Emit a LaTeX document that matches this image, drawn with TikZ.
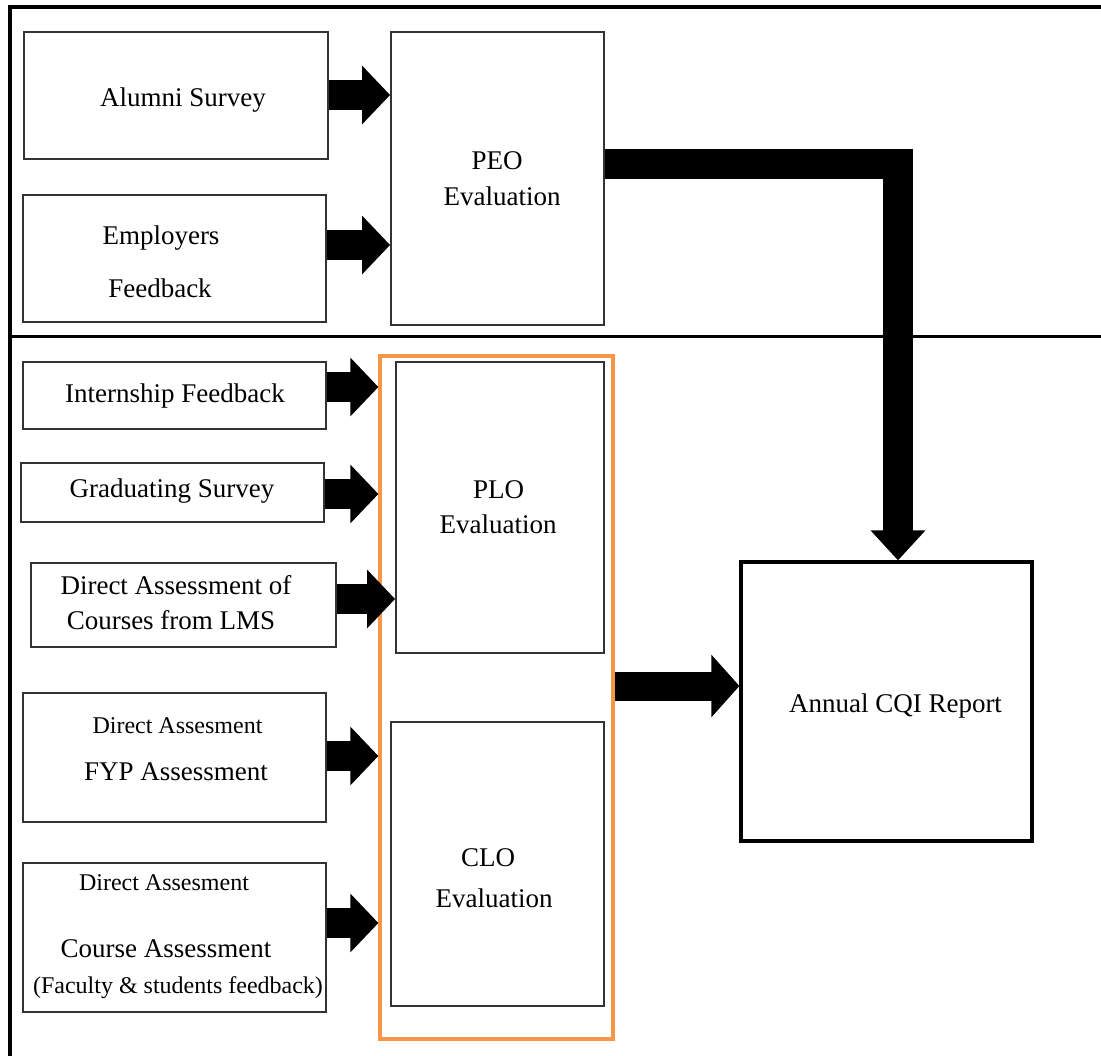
\documentclass[tikz,border=0pt]{standalone}
\usepackage{fontspec}
\setmainfont{Liberation Serif}
\usetikzlibrary{arrows.meta}
\definecolor{grporange}{HTML}{F79646}
\begin{document}
\begin{tikzpicture}[x=1pt,y=-1pt,
  rbox/.style={draw=black!80, line width=1.8pt, fill=none, inner sep=0pt},
  lbl/.style={anchor=base, inner sep=0pt, font=\fontsize{27}{32}\selectfont},
  sml/.style={anchor=base, inner sep=0pt, font=\fontsize{24}{28}\selectfont},
  blk/.style={line width=30pt, line cap=butt, -{Triangle[length=28pt,width=57pt]}},
  bigblk/.style={line width=30pt, line cap=butt, line join=miter, -{Triangle[length=30pt,width=53pt]}},
  framel/.style={line width=3.4pt, black}
]
\useasboundingbox (0,0) rectangle (1101,1056);

% frame lines
\draw[framel] (1101,7) -- (10,7) -- (10,1056);
\draw[framel, line width=3pt] (10,337) -- (1101,337);

% boxes
\node[rbox, minimum width=304pt, minimum height=127pt] (alumni) at (176,95.5) {};
\node[rbox, minimum width=303pt, minimum height=127pt] (employ) at (174.5,258.5) {};
\node[rbox, minimum width=213pt, minimum height=293pt] (peo) at (497.5,178.5) {};
\node[rbox, minimum width=303pt, minimum height=67pt] (intern) at (174.5,395.5) {};
\node[rbox, minimum width=303pt, minimum height=59pt] (grad) at (172.5,492.5) {};
\node[rbox, minimum width=305pt, minimum height=84pt] (lms) at (183.5,605) {};
\node[rbox, minimum width=303pt, minimum height=129pt] (fyp) at (174.5,757.5) {};
\node[rbox, minimum width=303pt, minimum height=149pt] (course) at (174.5,937.5) {};
\node[draw=grporange, line width=3.2pt, minimum width=233pt, minimum height=683pt, inner sep=0pt] (group) at (496.5,697.5) {};
\node[rbox, minimum width=208pt, minimum height=291pt] (plo) at (500,507.5) {};
\node[rbox, minimum width=213pt, minimum height=284pt] (clo) at (497.5,864) {};
\node[draw=black, line width=3.2pt, minimum width=291pt, minimum height=279pt, inner sep=0pt] (annual) at (886.5,701.5) {};

% texts
\node[lbl] (t-alumni) at (183,107) {Alumni Survey};
\node[lbl] (t-emp1) at (161,245) {Employers};
\node[lbl] (t-emp2) at (160,298) {Feedback};
\node[lbl] (t-peo1) at (497,170) {PEO};
\node[lbl] (t-peo2) at (502,206) {Evaluation};
\node[lbl] (t-intern) at (175,403) {Internship Feedback};
\node[lbl] (t-grad) at (172,497) {Graduating Survey};
\node[lbl] (t-lms1) at (176,594) {Direct Assessment of};
\node[lbl] (t-lms2) at (171,629) {Courses from LMS};
\node[sml] (t-fyp1) at (177.5,733) {Direct Assesment};
\node[lbl] (t-fyp2) at (176,780) {FYP Assessment};
\node[sml] (t-crs1) at (164,890) {Direct Assesment};
\node[lbl] (t-crs2) at (166,957) {Course Assessment};
\node[sml] (t-crs3) at (178,993) {(Faculty \& students feedback)};
\node[lbl] (t-plo1) at (498.5,498) {PLO};
\node[lbl] (t-plo2) at (498,533) {Evaluation};
\node[lbl] (t-clo1) at (488,866) {CLO};
\node[lbl] (t-clo2) at (494,907) {Evaluation};
\node[lbl] (t-annual) at (895.5,712) {Annual CQI Report};

% block arrows
\draw[blk] (alumni.east |- 0,95) -- (peo.west |- 0,95);
\draw[blk] (employ.east |- 0,245) -- (peo.west |- 0,245);
\draw[blk] (intern.east |- 0,387) -- (group.west |- 0,387);
\draw[blk] (grad.east |- 0,494) -- (group.west |- 0,494);
\draw[blk] (lms.east |- 0,599) -- (plo.west |- 0,599);
\draw[blk] (fyp.east |- 0,756) -- (group.west |- 0,756);
\draw[blk] (course.east |- 0,923) -- (group.west |- 0,923);
\draw[line width=29pt, line cap=butt, -{Triangle[length=28pt,width=61pt]}] (group.east |- 0,686) -- (annual.west |- 0,686);
\draw[bigblk] (peo.east |- 0,164) -| ([xshift=11.5pt]annual.north);
\end{tikzpicture}
\end{document}
